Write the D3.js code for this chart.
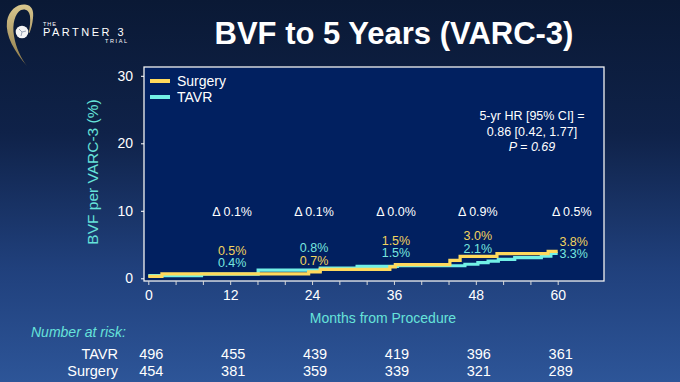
<!DOCTYPE html>
<html>
<head>
<meta charset="utf-8">
<script src="https://cdn.jsdelivr.net/npm/d3@7"></script>
<style>
html,body{margin:0;padding:0;background:#0b1b3b;}
svg{display:block;}
text{font-family:"Liberation Sans",Arial,sans-serif;}
</style>
</head>
<body>
<svg id="chart" width="680" height="382"></svg>
<script>
// ---------- data ----------
const title = "BVF to 5 Years (VARC-3)";
const yTicks = [0, 10, 20, 30];
const xMajorTicks = [0, 12, 24, 36, 48, 60];
const xMinorStep = 4;
const seriesNames = ["Surgery", "TAVR"];

// Kaplan-Meier style step curves (months, cumulative %)
const surgeryTimes  = [0,    2.0,  23.5, 25.2, 35.4, 36.2, 44.2, 45.7, 51.1, 58.6, 60];
const surgeryValues = [0.30, 0.66, 0.95, 1.32, 1.68, 2.02, 2.66, 3.25, 3.65, 3.98, 3.98];
const tavrTimes  = [0,    7.8,  16.1, 25.2, 30.6, 36.5, 46.4, 48.3, 49.8, 51.3, 53.7, 57.6, 59.0, 60];
const tavrValues = [0.40, 0.62, 1.20, 1.52, 1.76, 1.86, 2.08, 2.32, 2.55, 2.80, 3.05, 3.30, 3.70, 3.70];

// Landmark annotations
const landmarkMonths = [12, 24, 36, 48, 60];
const surgeryLabels = ["0.5%", "0.7%", "1.5%", "3.0%", "3.8%"];
const tavrLabels    = ["0.4%", "0.8%", "1.5%", "2.1%", "3.3%"];
const deltaLabels   = ["\u0394 0.1%", "\u0394 0.1%", "\u0394 0.0%", "\u0394 0.9%", "\u0394 0.5%"];
const surgeryOnTop  = [true, false, true, true, true];

// Number at risk
const riskMonths = [0, 12, 24, 36, 48, 60];
const tavrAtRisk    = [496, 455, 439, 419, 396, 361];
const surgeryAtRisk = [454, 381, 359, 339, 321, 289];

const hrLines = ["5-yr HR [95% CI] =", "0.86 [0.42, 1.77]"];
const pValue = "0.69";

// ---------- style ----------
const C = {
  surgery: "#ffd95c",
  tavr: "#72f0e6",
  surgeryText: "#f2d35e",
  tavrText: "#78e6df",
  plotFill: "#012060",
  axisLabel: "#66e3da",
  white: "#ffffff"
};

const svg = d3.select("#chart");
const defs = svg.append("defs");
const bg = defs.append("linearGradient").attr("id", "bg").attr("x1", 0).attr("y1", 0).attr("x2", 0).attr("y2", 1);
bg.append("stop").attr("offset", "0%").attr("stop-color", "#0a1935");
bg.append("stop").attr("offset", "35%").attr("stop-color", "#0f2249");
bg.append("stop").attr("offset", "70%").attr("stop-color", "#20407c");
bg.append("stop").attr("offset", "100%").attr("stop-color", "#2d5598");
svg.append("rect").attr("width", 680).attr("height", 382).attr("fill", "url(#bg)");

const gold = defs.append("linearGradient").attr("id", "gold").attr("x1", 0).attr("y1", 0).attr("x2", 0).attr("y2", 1);
gold.append("stop").attr("offset", "0%").attr("stop-color", "#d9c78e");
gold.append("stop").attr("offset", "100%").attr("stop-color", "#8c7847");

// ---------- logo ----------
const logo = svg.append("g");
logo.append("path")
  .attr("d", "M27,66 C15,52 5,36 7,21 C9,10 17,4 25,4.5 C32,5 34,11 33,18 C32.5,24 31,29 29.5,33 " +
             "L28.8,32.5 C30,27 30.5,21 30,16 C29,10 25,8.5 21,10 C15,13 12,24 14,36 C16,48 21,58 27,66 Z")
  .attr("fill", "url(#gold)");
logo.append("circle").attr("cx", 22).attr("cy", 32).attr("r", 6.3).attr("fill", "#f4f4f4");
logo.append("path").attr("d", "M22,32 L19,29 M22,32 L26,31 M22,32 L21,36")
  .attr("stroke", "#9aa4b5").attr("stroke-width", 1).attr("fill", "none");
logo.append("text").attr("x", 43).attr("y", 26).attr("font-size", 5.5).attr("fill", "#fff").attr("letter-spacing", 1).text("THE");
logo.append("text").attr("x", 43).attr("y", 35.5).attr("font-size", 11).attr("fill", "#fff").attr("letter-spacing", 2.5).text("PARTNER 3");
logo.append("text").attr("x", 105).attr("y", 42.5).attr("font-size", 5.5).attr("fill", "#fff").attr("letter-spacing", 1.6).text("TRIAL");

// ---------- title ----------
svg.append("text").attr("x", 394).attr("y", 44).attr("text-anchor", "middle")
  .attr("font-size", 31).attr("font-weight", "bold").attr("fill", C.white).text(title);

// ---------- scales ----------
const x = d3.scaleLinear().domain([0, 60]).range([148.3, 557.7]);
const y = d3.scaleLinear().domain([0, 30]).range([278.3, 75.8]);
const box = {x0: 144, x1: 604, y0: 67, y1: 281};

svg.append("rect").attr("x", box.x0).attr("y", box.y0)
  .attr("width", box.x1 - box.x0).attr("height", box.y1 - box.y0)
  .attr("fill", C.plotFill);

// ---------- curves ----------
const line = d3.line().x(d => x(d[0])).y(d => y(d[1])).curve(d3.curveStepAfter);
const tavrPts = tavrTimes.map((t, i) => [t, tavrValues[i]]);
const surgPts = surgeryTimes.map((t, i) => [t, surgeryValues[i]]);
svg.append("path").datum(tavrPts).attr("d", line).attr("fill", "none")
  .attr("stroke", C.tavr).attr("stroke-width", 3.2);
svg.append("path").datum(surgPts).attr("d", line).attr("fill", "none")
  .attr("stroke", C.surgery).attr("stroke-width", 3.2);

// ---------- box border & axes ----------
svg.append("rect").attr("x", box.x0).attr("y", box.y0)
  .attr("width", box.x1 - box.x0).attr("height", box.y1 - box.y0)
  .attr("fill", "none").attr("stroke", "#f2f2f2").attr("stroke-width", 1.3);

const yAxis = svg.append("g").attr("transform", `translate(${box.x0},0)`)
  .call(d3.axisLeft(y).tickValues(yTicks).tickSize(3).tickPadding(8));
yAxis.select(".domain").remove();
yAxis.selectAll("line").attr("stroke", "#fff");
yAxis.selectAll("text").attr("fill", "#fff").attr("font-size", 14)
  .attr("font-family", "Liberation Sans, Arial, sans-serif");

const xAxis = svg.append("g").attr("transform", `translate(0,${box.y1})`)
  .call(d3.axisBottom(x).tickValues(d3.range(0, 61, xMinorStep)).tickSize(4).tickPadding(5)
    .tickFormat(d => xMajorTicks.includes(d) ? d : ""));
xAxis.select(".domain").remove();
xAxis.selectAll("line").attr("stroke", "#d9d9d9");
xAxis.selectAll("text").attr("fill", "#fff").attr("font-size", 14)
  .attr("font-family", "Liberation Sans, Arial, sans-serif");

svg.append("text").attr("x", 383).attr("y", 318).attr("dy", "0.35em").attr("text-anchor", "middle")
  .attr("font-size", 14).attr("fill", C.axisLabel).text("Months from Procedure");
svg.append("text").attr("transform", "translate(98,172) rotate(-90)").attr("text-anchor", "middle")
  .attr("font-size", 15.5).attr("fill", C.axisLabel).text("BVF per VARC-3 (%)");

// ---------- legend ----------
const legend = svg.append("g");
[[seriesNames[0], C.surgery, 81], [seriesNames[1], C.tavr, 97]].forEach(([name, col, yy]) => {
  legend.append("line").attr("x1", 150).attr("x2", 170).attr("y1", yy).attr("y2", yy)
    .attr("stroke", col).attr("stroke-width", 4);
  legend.append("text").attr("x", 177).attr("y", yy).attr("dy", "0.35em")
    .attr("font-size", 14).attr("fill", "#fff").text(name);
});

// ---------- HR box ----------
const hr = svg.append("g").attr("font-size", 12.5).attr("fill", "#fff").attr("text-anchor", "middle");
hr.append("text").attr("x", 532).attr("y", 116).attr("dy", "0.35em").text(hrLines[0]);
hr.append("text").attr("x", 532).attr("y", 132).attr("dy", "0.35em").text(hrLines[1]);
const pt = hr.append("text").attr("x", 532).attr("y", 147).attr("dy", "0.35em").attr("font-style", "italic");
pt.append("tspan").text("P");
pt.append("tspan").text(" = " + pValue);

// ---------- landmark labels ----------
const labelX = m => m === 60 ? x(m) + 16 : x(m) + 2;
const topY = [4.12, 4.56, 5.60, 6.34, 5.36];
const botY = [2.38, 2.68, 3.82, 4.36, 3.67];
landmarkMonths.forEach((m, i) => {
  svg.append("text").attr("x", m === 60 ? x(m) + 14 : x(m) + 2).attr("y", y(9.87)).attr("dy", "0.35em")
    .attr("text-anchor", "middle").attr("font-size", 12.5).attr("fill", "#fff").text(deltaLabels[i]);
  const sTop = surgeryOnTop[i];
  svg.append("text").attr("x", labelX(m)).attr("y", y(sTop ? topY[i] : botY[i])).attr("dy", "0.35em")
    .attr("text-anchor", "middle").attr("font-size", 12.5).attr("fill", C.surgeryText).text(surgeryLabels[i]);
  svg.append("text").attr("x", labelX(m)).attr("y", y(sTop ? botY[i] : topY[i])).attr("dy", "0.35em")
    .attr("text-anchor", "middle").attr("font-size", 12.5).attr("fill", C.tavrText).text(tavrLabels[i]);
});

// ---------- number at risk ----------
svg.append("text").attr("x", 31).attr("y", 332).attr("dy", "0.35em").attr("font-size", 14)
  .attr("font-style", "italic").attr("fill", C.axisLabel).text("Number at risk:");
const rows = [["TAVR", tavrAtRisk, 354], ["Surgery", surgeryAtRisk, 371]];
rows.forEach(([name, vals, yy]) => {
  svg.append("text").attr("x", 118).attr("y", yy).attr("dy", "0.35em").attr("text-anchor", "end")
    .attr("font-size", 14.5).attr("fill", "#fff").text(name);
  vals.forEach((v, i) => {
    svg.append("text").attr("x", x(riskMonths[i]) + 3).attr("y", yy).attr("dy", "0.35em")
      .attr("text-anchor", "middle").attr("font-size", 14.5).attr("fill", "#fff").text(v);
  });
});
</script>
</body>
</html>
